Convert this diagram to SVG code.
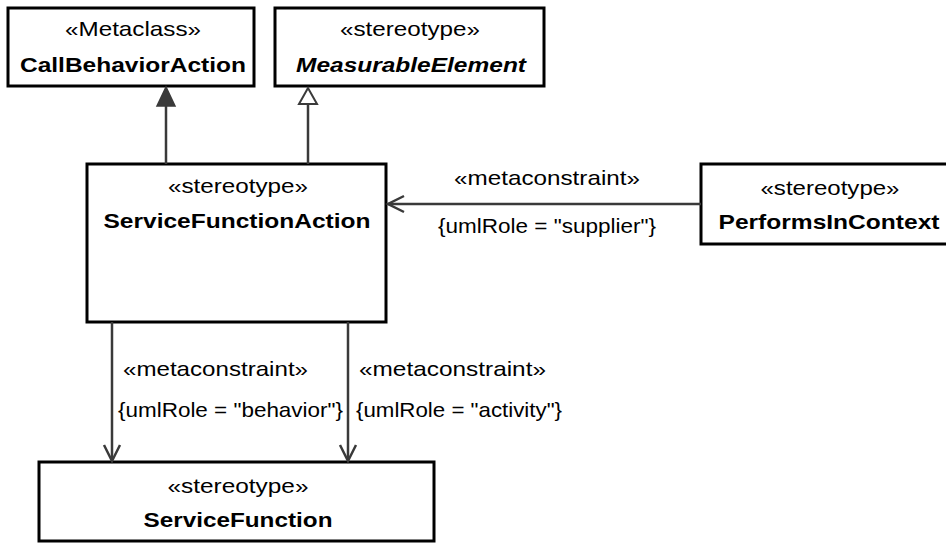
<svg xmlns="http://www.w3.org/2000/svg" width="946" height="546" viewBox="0 0 946 546">
<style>
.box{fill:#fff;stroke:#000;stroke-width:3}
.st{font-family:"Liberation Sans",Arial,sans-serif;font-size:21px;fill:#000;text-anchor:middle}
.nm{font-family:"Liberation Sans",Arial,sans-serif;font-size:21px;font-weight:bold;fill:#000;text-anchor:middle}
.lb{font-family:"Liberation Sans",Arial,sans-serif;font-size:21px;fill:#000}
.ln{fill:none;stroke:#3a3a3a;stroke-width:2.5}
</style>
<rect width="946" height="546" fill="#fff"/>
<g id="CallBehaviorAction">
<rect class="box" x="8" y="8" width="246" height="78"/>
<text class="st" x="133" y="36" textLength="136" lengthAdjust="spacingAndGlyphs">«Metaclass»</text>
<text class="nm" x="133" y="72" textLength="226" lengthAdjust="spacingAndGlyphs">CallBehaviorAction</text>
</g>
<g id="MeasurableElement">
<rect class="box" x="275" y="8" width="269" height="78"/>
<text class="st" x="410" y="36" textLength="140" lengthAdjust="spacingAndGlyphs">«stereotype»</text>
<text class="nm" x="411" y="72" font-style="italic" textLength="230" lengthAdjust="spacingAndGlyphs">MeasurableElement</text>
</g>
<g id="ServiceFunctionAction">
<rect class="box" x="87" y="164" width="299" height="158"/>
<text class="st" x="238" y="193" textLength="140" lengthAdjust="spacingAndGlyphs">«stereotype»</text>
<text class="nm" x="237" y="228" textLength="267" lengthAdjust="spacingAndGlyphs">ServiceFunctionAction</text>
</g>
<g id="PerformsInContext">
<rect class="box" x="701" y="164" width="258" height="80"/>
<text class="st" x="830" y="195" textLength="139" lengthAdjust="spacingAndGlyphs">«stereotype»</text>
<text class="nm" x="829" y="229" textLength="221" lengthAdjust="spacingAndGlyphs">PerformsInContext</text>
</g>
<g id="ServiceFunction">
<rect class="box" x="39" y="462" width="395" height="79"/>
<text class="st" x="238" y="493" textLength="141" lengthAdjust="spacingAndGlyphs">«stereotype»</text>
<text class="nm" x="238" y="527" textLength="189" lengthAdjust="spacingAndGlyphs">ServiceFunction</text>
</g>
<g id="connectors">
<line class="ln" x1="166" y1="164" x2="166" y2="104"/>
<polygon points="166,87 157,106 175,106" fill="#3a3a3a" stroke="#3a3a3a" stroke-width="1.5"/>
<line class="ln" x1="308" y1="164" x2="308" y2="104"/>
<polygon points="308,88 299,104 317,104" fill="#fff" stroke="#3a3a3a" stroke-width="2"/>
<line class="ln" x1="701" y1="204" x2="388" y2="204"/>
<polyline class="ln" points="404,196 388,204 404,212"/>
<line class="ln" x1="112" y1="322" x2="112" y2="460"/>
<polyline class="ln" points="104,445 112,461 120,445"/>
<line class="ln" x1="348" y1="322" x2="348" y2="460"/>
<polyline class="ln" points="340,445 348,461 356,445"/>
<text class="st" x="547" y="185" textLength="186" lengthAdjust="spacingAndGlyphs">«metaconstraint»</text>
<text class="st" x="547" y="233" textLength="218" lengthAdjust="spacingAndGlyphs">{umlRole = "supplier"}</text>
<text class="lb" x="123" y="376" textLength="185" lengthAdjust="spacingAndGlyphs">«metaconstraint»</text>
<text class="lb" x="118" y="417" textLength="225" lengthAdjust="spacingAndGlyphs">{umlRole = "behavior"}</text>
<text class="lb" x="359" y="376" textLength="187" lengthAdjust="spacingAndGlyphs">«metaconstraint»</text>
<text class="lb" x="356" y="417" textLength="206" lengthAdjust="spacingAndGlyphs">{umlRole = "activity"}</text>
</g>
</svg>
